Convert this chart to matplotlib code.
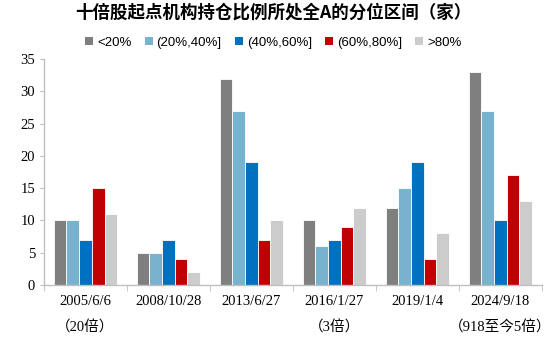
import matplotlib
matplotlib.use("Agg")
import matplotlib.pyplot as plt
import numpy as np

categories = ["2005/6/6", "2008/10/28", "2013/6/27", "2016/1/27", "2019/1/4", "2024/9/18"]
notes = ["（20倍）", "", "", "（3倍）", "", "（918至今5倍）"]
series_names = ["<20%", "(20%,40%]", "(40%,60%]", "(60%,80%]", ">80%"]
s_lt20 = [10, 5, 32, 10, 12, 33]
s_20_40 = [10, 5, 27, 6, 15, 27]
s_40_60 = [7, 7, 19, 7, 19, 10]
s_60_80 = [15, 4, 7, 9, 4, 17]
s_gt80 = [11, 2, 10, 12, 8, 13]
series = [s_lt20, s_20_40, s_40_60, s_60_80, s_gt80]
colors = ["#7f7f7f", "#77b2cf", "#0070c0", "#c00000", "#cccccc"]
title = "十倍股起点机构持仓比例所处全A的分位区间（家）"

plt.rcParams['font.family'] = ['Liberation Serif', 'Noto Sans CJK SC']

fig = plt.figure(figsize=(5.5, 3.38), dpi=100)
ax = fig.add_axes([0.08, 0.157, 0.905, 0.668])

x = np.arange(len(categories))
bw = 0.153
for i, (vals, c, name) in enumerate(zip(series, colors, series_names)):
    ax.bar(x + (i - 2) * bw, vals, width=bw, color=c, edgecolor='white', linewidth=0.6, label=name)

ax.set_xlim(-0.5, len(categories) - 0.5)
ax.set_ylim(0, 35)
ax.set_yticks(np.arange(0, 36, 5))
for s in ['top', 'right']:
    ax.spines[s].set_visible(False)
for s in ['left', 'bottom']:
    ax.spines[s].set_color('#bfbfbf')
    ax.spines[s].set_linewidth(1.0)
ax.tick_params(axis='y', colors='#bfbfbf', labelcolor='black', labelsize=10.5, length=3)
ax.set_xticks(x)
ax.set_xticklabels(categories, fontsize=10.5)
ax.tick_params(axis='x', length=0, pad=7)
ax.set_xticks(np.arange(-0.5, len(categories), 1), minor=True)
ax.tick_params(axis='x', which='minor', length=4, colors='#bfbfbf')

for xi, n in zip(x, notes):
    if n:
        ax.text(xi, -0.19, n, transform=ax.get_xaxis_transform(), ha='center', va='center',
                fontsize=10.5, family=['Liberation Serif', 'Noto Sans CJK SC'])

fig.text(0.497, 0.962, title, ha='center', va='center', fontsize=12.6, fontweight='bold',
         family=['Noto Sans CJK SC', 'DejaVu Sans'])

leg = fig.legend(loc='center', bbox_to_anchor=(0.497, 0.873), ncol=5, frameon=False,
                 handlelength=0.6, handleheight=0.6, handletextpad=0.3, columnspacing=1.0,
                 prop={'family': 'Liberation Sans', 'size': 9.5})
for h in leg.legend_handles:
    h.set_edgecolor('none')

fig.savefig("out.png", dpi=100)
